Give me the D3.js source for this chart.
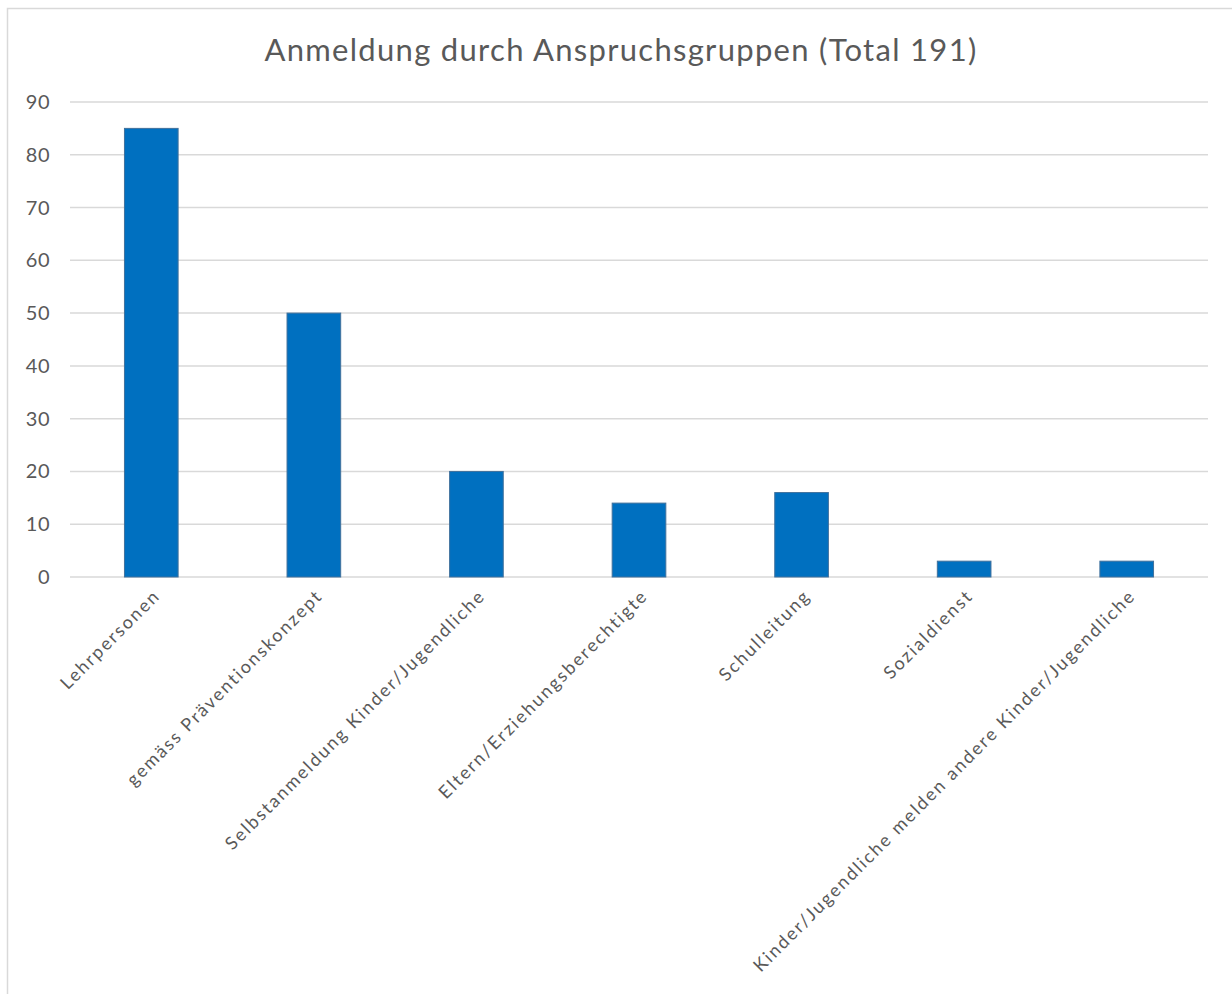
<!DOCTYPE html>
<meta charset="utf-8">
<script src="https://cdn.jsdelivr.net/npm/d3@7"></script>
<style>
    body { margin: 0; background: #fff; }
    text { font-family: "Lato", "DejaVu Sans", sans-serif; fill: #595959; }
    .grid line { stroke: #d9d9d9; stroke-width: 1.5px; }
    .bar { fill: #0070c0; stroke: #41719c; stroke-width: 1px; }
</style>
<body>
<script>
    // data
    var categories = ["Lehrpersonen", "gemäss Präventionskonzept", "Selbstanmeldung Kinder/Jugendliche",
        "Eltern/Erziehungsberechtigte", "Schulleitung", "Sozialdienst",
        "Kinder/Jugendliche melden andere Kinder/Jugendliche"];
    var values = [85, 50, 20, 14, 16, 3, 3];
    var yTicks = [0, 10, 20, 30, 40, 50, 60, 70, 80, 90];
    var title = "Anmeldung durch Anspruchsgruppen (Total 191)";

    var width = 1232, height = 994;
    var margin = { top: 102, right: 24, bottom: 417, left: 70 };

    var svg = d3.select("body").append("svg")
        .attr("width", width)
        .attr("height", height);

    // chart border
    svg.append("rect")
        .attr("x", 7.5).attr("y", 8.5)
        .attr("width", width + 10).attr("height", height + 10)
        .attr("fill", "none")
        .attr("stroke", "#d9d9d9")
        .attr("stroke-width", 1.5);

    var x = d3.scaleBand()
        .domain(categories)
        .range([margin.left, width - margin.right])
        .paddingInner(0.67)
        .paddingOuter(0.335);

    var y = d3.scaleLinear()
        .domain([0, 90])
        .range([height - margin.bottom, margin.top]);

    // gridlines
    svg.append("g")
        .attr("class", "grid")
        .selectAll("line")
        .data(yTicks)
        .enter()
        .append("line")
        .attr("x1", margin.left)
        .attr("x2", width - margin.right)
        .attr("y1", function (d) { return y(d); })
        .attr("y2", function (d) { return y(d); });

    // y tick labels
    svg.append("g")
        .selectAll("text")
        .data(yTicks)
        .enter()
        .append("text")
        .attr("x", 50)
        .attr("y", function (d) { return y(d); })
        .attr("dy", "0.35em")
        .style("text-anchor", "end")
        .style("font-size", "20px")
        .style("letter-spacing", "0.5px")
        .text(function (d) { return d; });

    // bars
    svg.append("g")
        .selectAll("rect")
        .data(values)
        .enter()
        .append("rect")
        .attr("class", "bar")
        .attr("x", function (d, i) { return x(categories[i]); })
        .attr("width", x.bandwidth())
        .attr("y", function (d) { return y(d); })
        .attr("height", function (d) { return y(0) - y(d); });

    // rotated category labels
    svg.append("g")
        .selectAll("text")
        .data(categories)
        .enter()
        .append("text")
        .attr("transform", function (d) {
            var cx = x(d) + x.bandwidth() / 2 + 10;
            return "translate(" + cx + "," + (y(0) + 20) + ") rotate(-45)";
        })
        .style("text-anchor", "end")
        .style("font-size", "18px")
        .style("letter-spacing", "2px")
        .text(function (d) { return d; });

    // title
    svg.append("text")
        .attr("x", 621)
        .attr("y", 61)
        .style("text-anchor", "middle")
        .style("font-size", "31px")
        .style("letter-spacing", "1.3px")
        .text(title);
</script>
</body>
